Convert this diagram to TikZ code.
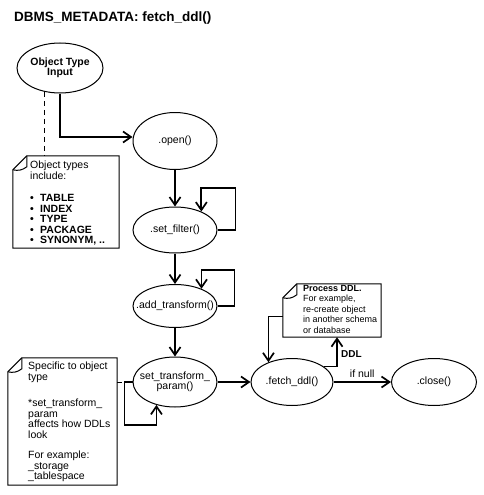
\documentclass[tikz,border=0pt]{standalone}
\usepackage{fontspec}
\setmainfont{Liberation Sans}
\usetikzlibrary{arrows.meta,shapes.geometric,positioning,calc}
\tikzstyle{arrow} = [line width=1.7pt,-{Straight Barb[length=8pt,width=11pt]}]
\tikzstyle{process} = [ellipse, draw, line width=1pt, minimum width=84pt, inner sep=0pt, align=center, font=\fontsize{10.5}{10.5}\selectfont]
\tikzstyle{note} = [rectangle, draw=none, inner sep=0pt]
\tikzstyle{notetext} = [anchor=north west, inner sep=0pt, align=left, font=\fontsize{10.5}{10.5}\selectfont]
\tikzstyle{link} = [line width=1pt, dash pattern=on 5pt off 4pt]
\newcommand{\ovaltext}[1]{\makebox[0pt]{#1}}
\newcommand{\notefold}[1]{%
  \draw[line width=1pt] ([xshift=14pt]#1.north west) -- (#1.north east) -- (#1.south east)
    -- (#1.south west) -- ([yshift=-14pt]#1.north west) -- cycle;
  \draw[line width=1pt] ([xshift=14pt]#1.north west) -- ([xshift=14pt,yshift=-11pt]#1.north west)
    to[bend left=25] ([yshift=-14pt]#1.north west);}

\begin{document}
\begin{tikzpicture}[x=1pt, y=-1pt]
    \useasboundingbox (0,0) rectangle (483,495);

    % Title
    \node[anchor=base west, inner sep=0pt, font=\bfseries\fontsize{13.5}{14}\selectfont] (title) at (14,22) {DBMS\_METADATA: fetch\_ddl()};

    % Calls
    \node[process, font=\bfseries\fontsize{10.5}{10}\selectfont, minimum width=86pt, minimum height=50pt] (objin) at (60,68) {\ovaltext{Object Type}\\\ovaltext{Input}};
    \node[process, minimum height=57pt] (open) at (175,141) {\ovaltext{.open()}};
    \node[process, minimum height=46pt] (filter) at (175,230) {\ovaltext{.set\_filter()}};
    \node[process, minimum height=43pt] (addtr) at (175,306) {\ovaltext{.add\_transform()}};
    \node[process, minimum height=50pt] (settr) at (175,382) {\ovaltext{set\_transform\_}\\\ovaltext{param()}};
    \node[process, minimum width=82pt, minimum height=47pt] (fetch) at (292,382) {\ovaltext{.fetch\_ddl()}};
    \node[process, minimum width=85pt, minimum height=47pt] (close) at (434,382) {\ovaltext{.close()}};

    % Notes
    \node[note, minimum width=106pt, minimum height=92pt] (types) at (66,202) {};
    \notefold{types}
    \node[notetext] (typestxt) at (30,161) {Object types\\include:\\[12pt]
        \textbf{\makebox[10pt][l]{\textbullet}TABLE}\\
        \textbf{\makebox[10pt][l]{\textbullet}INDEX}\\
        \textbf{\makebox[10pt][l]{\textbullet}TYPE}\\
        \textbf{\makebox[10pt][l]{\textbullet}PACKAGE}\\
        \textbf{\makebox[10pt][l]{\textbullet}SYNONYM, ..}};

    \node[note, minimum width=109pt, minimum height=127pt] (spec) at (62.5,421.5) {};
    \notefold{spec}
    \node[notetext] (spectxt) at (28,362) {Specific to object\\type\\[16pt]
        *set\_transform\_\\param\\affects how DDLs\\look\\[10pt]
        For example:\\\_storage\\\_tablespace};

    \node[note, minimum width=98pt, minimum height=53pt] (proc) at (332,310.5) {};
    \notefold{proc}
    \node[notetext, font=\fontsize{9}{10.5}\selectfont] (proctxt) at (303,285) {\textbf{Process DDL.}\\For example,\\re-create object\\in another schema\\or database};

    % Arrows
    \draw[arrow] (objin.south) |- ([yshift=4pt]open.west);
    \draw[link] (objin.237) -- (objin.237 |- types.north);
    \draw[arrow] (open) -- (filter);
    \draw[arrow] (filter.east) -| ++(18,-42) -| (filter.35);
    \draw[arrow] (filter) -- (addtr);
    \draw[arrow] (addtr.east) -| ++(17,-36) -| (addtr.33);
    \draw[arrow] (addtr) -- (settr);
    \draw[arrow] (settr.west) -| ++(-8,43) -| (settr.231);
    \draw[link] (settr.west -| spec.east) -- (settr.west);
    \draw[arrow] (settr) -- (fetch);
    \draw[arrow] (fetch) -- node[above, font=\fontsize{10.5}{10.5}\selectfont] (ifnull) {if null} (close);
    \draw[arrow] ([yshift=-6pt]proc.west) -| (fetch.140);
    \draw[arrow] (fetch.26) -| node[pos=0.72, right, font=\bfseries\fontsize{10}{10.5}\selectfont] (ddl) {DDL} ([xshift=5pt]proc.south);
\end{tikzpicture}
\end{document}
